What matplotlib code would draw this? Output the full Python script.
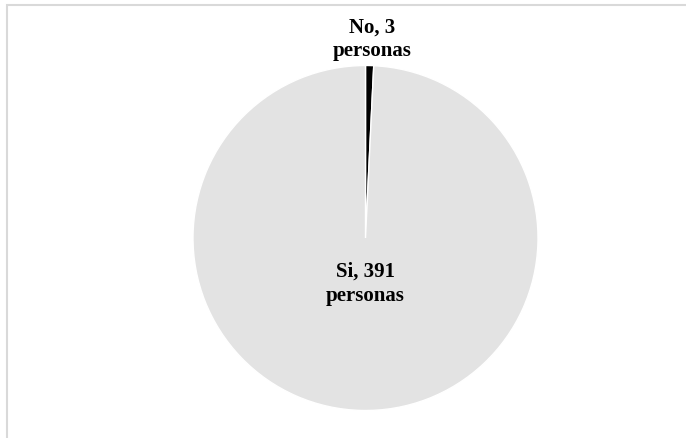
import matplotlib
matplotlib.use("Agg")
import matplotlib.pyplot as plt
from matplotlib.patches import Rectangle

categories = ["No", "Si"]
counts = [3, 391]
unit = "personas"
colors = ["#000000", "#e3e3e3"]

W, H, DPI = 686, 439, 100
fig = plt.figure(figsize=(W / DPI, H / DPI), dpi=DPI)
fig.patch.set_facecolor("white")

# chart-area frame (open towards the right and bottom edges)
fig.add_artist(Rectangle((6.5 / W, -0.01), 1.02, (H - 5.5) / H + 0.01,
                         transform=fig.transFigure, fill=False,
                         edgecolor="#d9d9d9", linewidth=1.5))

cx, cy, r = 365.5, 200.0, 172.5
ax = fig.add_axes([(cx - r) / W, (cy - r) / H, 2 * r / W, 2 * r / H])
wedges, _ = ax.pie(counts, colors=colors, startangle=90, counterclock=False,
                   radius=1.0, wedgeprops=dict(edgecolor="white", linewidth=1.0))
ax.set_xlim(-1, 1)
ax.set_ylim(-1, 1)
ax.set_aspect("equal")
ax.axis("off")

font = dict(family="Liberation Serif", fontweight="bold", fontsize=15,
            ha="center", va="center", linespacing=1.25)
label_pos = {"No": (0.038, 1.157), "Si": (0.0, -0.26)}
for cat, n in zip(categories, counts):
    x, y = label_pos[cat]
    ax.text(x, y, f"{cat}, {n}\n{unit}", clip_on=False, **font)

fig.savefig("out.png", dpi=DPI)
